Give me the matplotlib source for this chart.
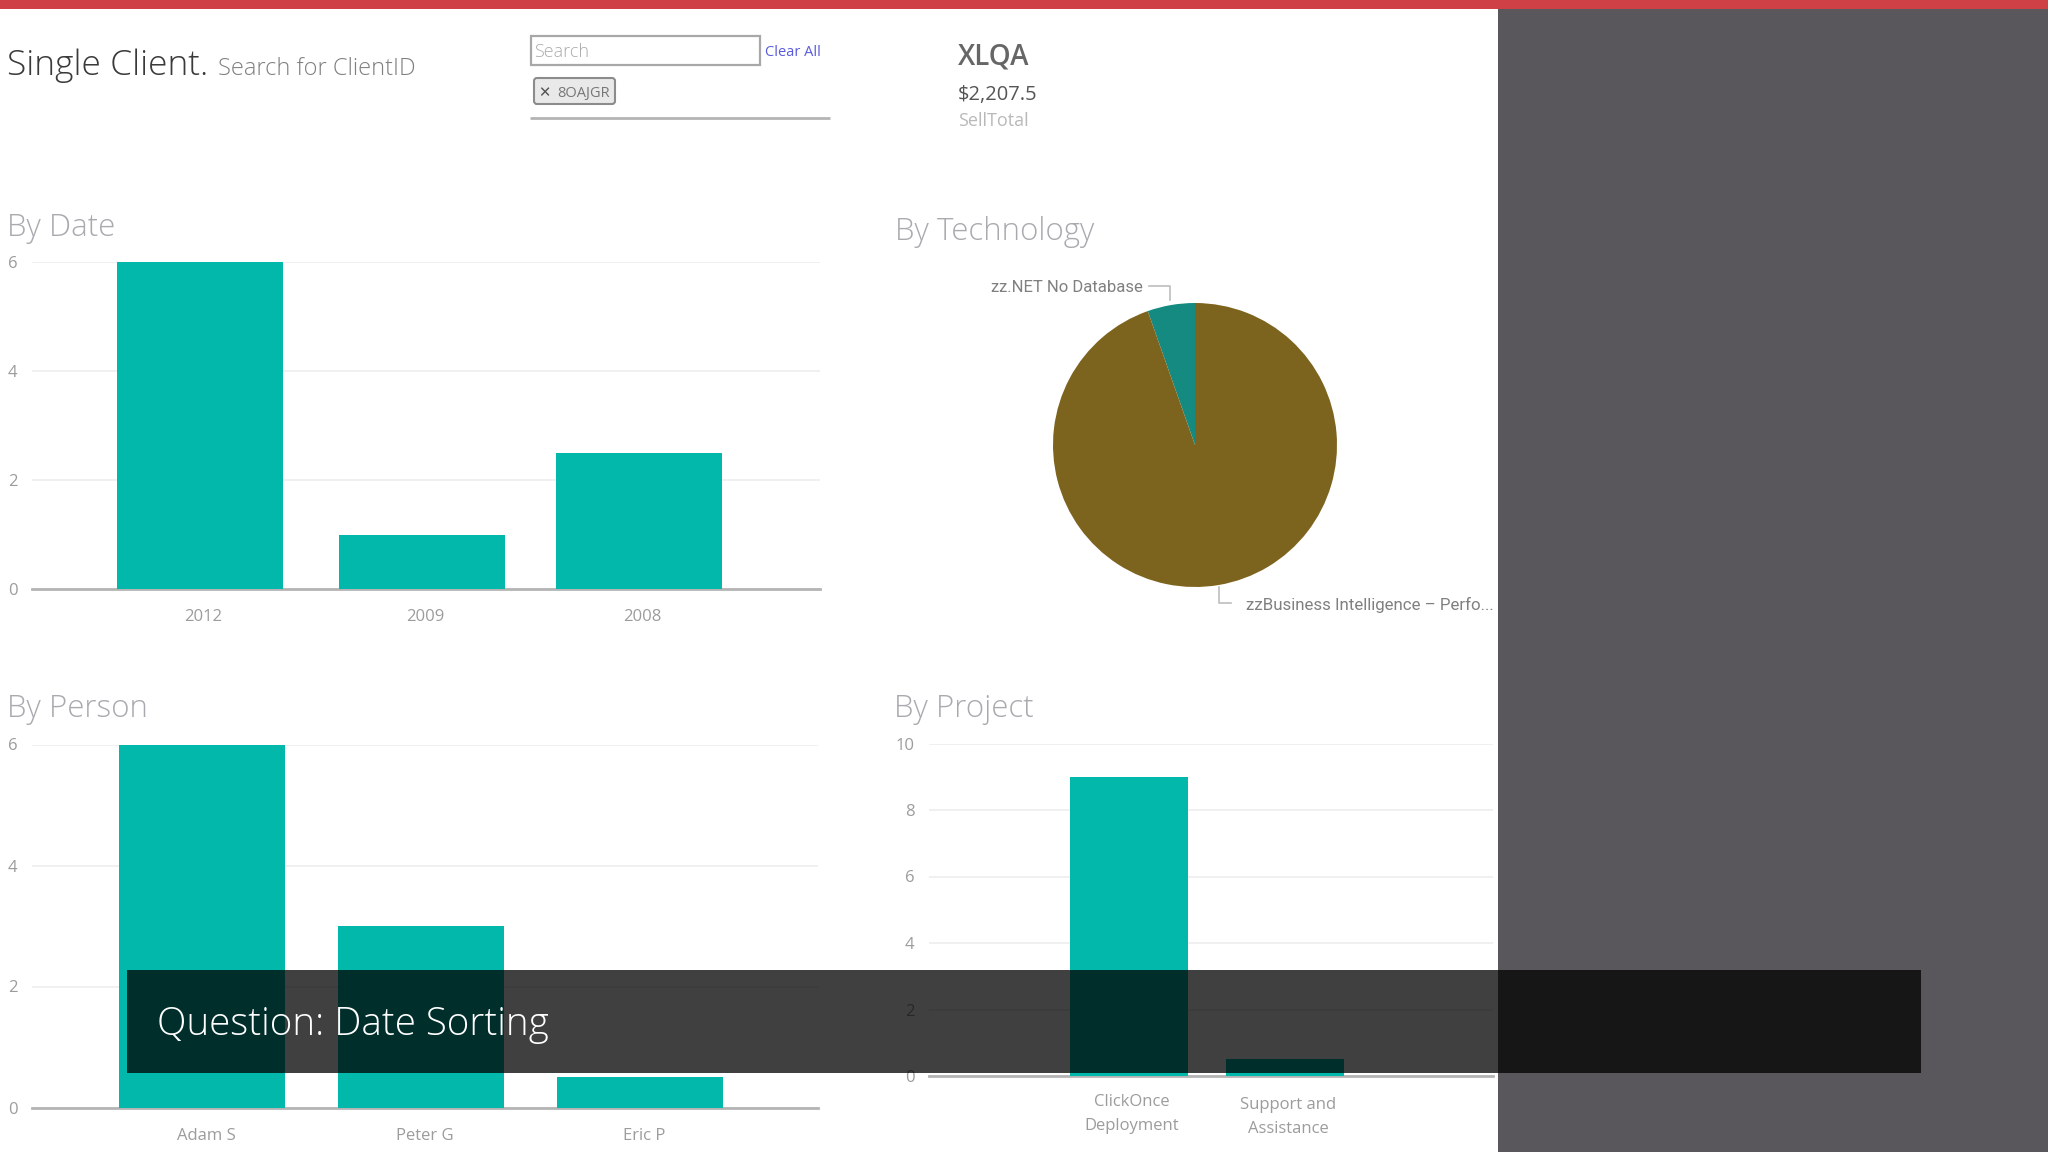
import matplotlib
matplotlib.use("Agg")
import matplotlib.pyplot as plt
from matplotlib.patches import Rectangle, FancyBboxPatch

W, H = 2048, 1152
TEAL = '#01B8AA'
TICK = '#9C9C9C'
HEAD = '#A9A9AF'
FONT = 'Open Sans'

date_labels = ['2012', '2009', '2008']
date_values = [6, 1, 2.5]
person_labels = ['Adam S', 'Peter G', 'Eric P']
person_values = [6, 3, 0.5]
project_labels = ['ClickOnce\nDeployment', 'Support and\nAssistance']
project_values = [9, 0.5]
tech_labels = ['zz.NET No Database', 'zzBusiness Intelligence – Perfo...']
tech_values = [5.4, 94.6]
tech_colors = ['#158A80', '#7D641E']

plt.rcParams['font.family'] = [FONT, 'DejaVu Sans']

fig = plt.figure(figsize=(W / 100, H / 100), dpi=100, facecolor='white')


def px_axes(left, top, right, bottom):
    return fig.add_axes([left / W, 1 - bottom / H, (right - left) / W, (bottom - top) / H])


def bar_chart(rect, labels, values, yticks, first, step, width, label_shift, pad=14.5, nudge=None):
    left, top, right, bottom = rect
    ax = px_axes(left, top, right, bottom)
    pos = list(range(len(values)))
    if nudge:
        pos = [p + n for p, n in zip(pos, nudge)]
    ax.bar(pos, values, width=width / step, color=TEAL, zorder=3)
    ax.set_xlim((left - first) / step, (right - first) / step)
    ax.set_ylim(0, yticks[-1])
    ax.set_xticks([p + label_shift / step for p in pos])
    ax.set_xticklabels(labels, linespacing=1.65)
    ax.set_yticks(yticks)
    ax.tick_params(axis='both', length=0, labelcolor=TICK, labelsize=12)
    ax.tick_params(axis='x', pad=pad)
    ax.tick_params(axis='y', pad=10.5)
    ax.grid(axis='y', color='#EFEFEF', linewidth=1.3, zorder=0)
    ax.set_axisbelow(True)
    for name in ['top', 'left', 'right']:
        ax.spines[name].set_visible(False)
    ax.spines['bottom'].set_color('#B4B4B4')
    ax.spines['bottom'].set_linewidth(2)
    ax.patch.set_alpha(0)
    return ax


bar_chart((32, 262.5, 820, 589), date_labels, date_values, [0, 2, 4, 6], 199.5, 219.5, 166, 4,
          nudge=[0, 0.012, 0])
bar_chart((32, 744.5, 818, 1107.5), person_labels, person_values, [0, 2, 4, 6], 202, 219, 166, 4)
ax_project = bar_chart((929, 743.5, 1493, 1076), project_labels, project_values,
                       [0, 2, 4, 6, 8, 10], 1129, 156, 118, 3, pad=13)
ax_project.xaxis.get_major_ticks()[1].set_pad(15)

ax_pie = px_axes(1053, 303, 1337, 587)
ax_pie.pie(tech_values, colors=tech_colors, startangle=90, radius=1)
ax_pie.set_xlim(-1, 1)
ax_pie.set_ylim(-1, 1)

# everything that isn't a chart goes on one overlay in pixel coordinates
ov = fig.add_axes([0, 0, 1, 1], zorder=10)
ov.set_xlim(0, W)
ov.set_ylim(H, 0)
ov.axis('off')

ov.add_patch(Rectangle((0, 0), W, 9, color='#CE4045', lw=0))
ov.add_patch(Rectangle((1498, 9), W - 1498, H, color='#59575B', lw=0))

ov.text(7, 75, 'Single Client.', fontsize=25.5, color='#3A3A3A', weight='light', va='baseline')
ov.text(218, 75, 'Search for ClientID', fontsize=17, color='#808080', weight='light', va='baseline')

ov.add_patch(Rectangle((530.5, 35.5), 229, 29, fc='white', ec='#A8A8A8', lw=1.6))
ov.text(534, 52, 'Search', fontsize=13, color='#ABABAB', va='center', weight='light')
ov.text(765, 53, 'Clear All', fontsize=10.5, color='#5A5ADC', va='center')
ov.add_patch(FancyBboxPatch((534, 78), 81, 26, boxstyle='round,pad=0,rounding_size=3',
                            fc='#E9E9E9', ec='#8C8C8C', lw=1.5))
ov.text(544, 92.5, '✕', fontsize=10.5, color='#555555', va='center', ha='center',
        family=['DejaVu Sans'])
ov.text(557, 93, '8OAJGR', fontsize=10.5, color='#777777', va='center')
ov.plot([530, 830], [118, 118], color='#B4B4B4', lw=2, solid_capstyle='butt')

ov.text(958, 57, 'XLQA', fontsize=20, color='#666666', va='center', weight='semibold')
ov.text(958, 95, '$2,207.5', fontsize=14.5, color='#555555', va='center')
ov.text(958, 121, 'SellTotal', fontsize=13, color='#B9B9B9', va='center')

for x, y, s in [(7, 228, 'By Date'), (895, 232, 'By Technology'),
                (7, 709, 'By Person'), (894, 709, 'By Project')]:
    ov.text(x, y, s, fontsize=22.5, color=HEAD, va='center', weight='light')

ov.plot([1149, 1170, 1170], [286, 286, 300], color='#BDBDBD', lw=1.2)
ov.plot([1219, 1219, 1231], [587, 603, 603], color='#BDBDBD', lw=1.2)
ov.text(1143, 288, tech_labels[0], fontsize=12, color='#808080', va='center', ha='right',
        family=['Roboto'])
ov.text(1246, 605, tech_labels[1], fontsize=12.2, color='#808080', va='center', ha='left',
        family=['Roboto'])

ov.add_patch(Rectangle((127, 970), 1794, 103, fc='black', alpha=0.75, lw=0))
ov.text(157, 1025, 'Question: Date Sorting', fontsize=27.7, color='white', va='center', weight='light')

fig.savefig('out.png', dpi=100)
